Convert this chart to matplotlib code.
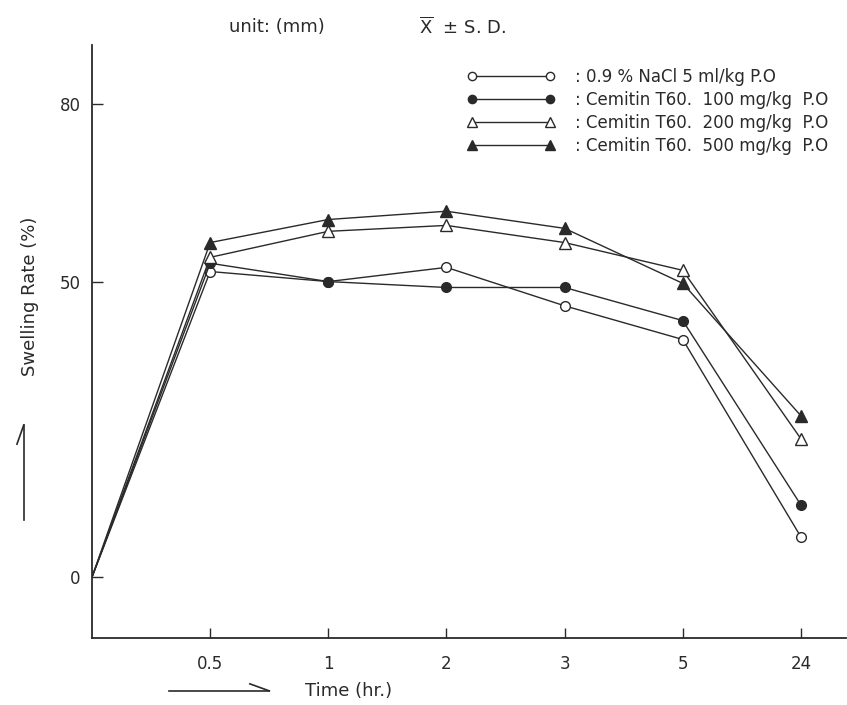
import numpy as np
import matplotlib.pyplot as plt

# Data (swelling rate, %)
times = ['0', '0.5', '1', '2', '3', '5', '24']
nacl = [0, 51.7, 50.0, 52.4, 45.9, 40.2, 6.8]
cem100 = [0, 53.1, 50.0, 49.0, 49.0, 43.4, 12.2]
cem200 = [0, 54.1, 58.5, 59.5, 56.6, 51.9, 23.4]
cem500 = [0, 56.6, 60.5, 61.9, 59.0, 49.7, 27.3]
labels = [': 0.9 % NaCl 5 ml/kg P.O',
          ': Cemitin T60.  100 mg/kg  P.O',
          ': Cemitin T60.  200 mg/kg  P.O',
          ': Cemitin T60.  500 mg/kg  P.O']

plt.rcParams['font.family'] = ['DejaVu Sans']
ink = '#2a2a2a'

fig = plt.figure(figsize=(8.47, 7.05), dpi=100)
ax = fig.add_axes([0.1086, 0.095, 0.89, 0.841])

x = np.arange(len(times))
styles = [
    (nacl, 'o', 'white', 7),
    (cem100, 'o', ink, 7),
    (cem200, '^', 'white', 8),
    (cem500, '^', ink, 8),
]
for (vals, mk, fc, ms), lab in zip(styles, labels):
    ax.plot(x, vals, '-', color=ink, lw=1.0, marker=mk, markersize=ms,
            markerfacecolor=fc, markeredgecolor=ink, markeredgewidth=1.0,
            markevery=slice(1, None), label=lab)

ax.set_xlim(0, 6.38)
ax.set_ylim(-10.3, 90)
ax.set_xticks(x[1:])
ax.set_xticklabels(times[1:], fontsize=12, color=ink)
ax.set_yticks([0, 50, 80])
ax.set_yticklabels(['0', '50', '80'], fontsize=12, color=ink)
ax.tick_params(axis='x', direction='in', length=7, width=1, pad=12, colors=ink)
ax.tick_params(axis='y', direction='in', length=8, width=1, pad=8, colors=ink)
for s in ['top', 'right']:
    ax.spines[s].set_visible(False)
for s in ['left', 'bottom']:
    ax.spines[s].set_color(ink)
    ax.spines[s].set_linewidth(1.3)

leg = ax.legend(loc='upper right', bbox_to_anchor=(0.997, 0.987), numpoints=2,
                handlelength=5.3, handletextpad=1.2, labelspacing=0.3,
                frameon=False, fontsize=12, markerscale=0.85)
for t in leg.get_texts():
    t.set_color(ink)

# axis labels with arrows, as in the original figure
fig.text(0.036, 0.58, 'Swelling Rate (%)', rotation=90, fontsize=13,
         color=ink, ha='center', va='center')
fig.text(0.36, 0.02, 'Time (hr.)', fontsize=13, color=ink,
         ha='left', va='center')
fig.add_artist(plt.Line2D([0.028, 0.028], [0.262, 0.397], color=ink, lw=1.2))
fig.add_artist(plt.Line2D([0.02, 0.028], [0.37, 0.397], color=ink, lw=1.2))
fig.add_artist(plt.Line2D([0.2, 0.318], [0.02, 0.02], color=ink, lw=1.2))
fig.add_artist(plt.Line2D([0.295, 0.318], [0.03, 0.02], color=ink, lw=1.2))

fig.text(0.27, 0.962, 'unit: (mm)', fontsize=13, color=ink, va='center')
fig.text(0.495, 0.962, r'$\overline{\mathrm{X}}$  ± S. D.', fontsize=13,
         color=ink, va='center')

fig.savefig('out.png', dpi=100, facecolor='white')
